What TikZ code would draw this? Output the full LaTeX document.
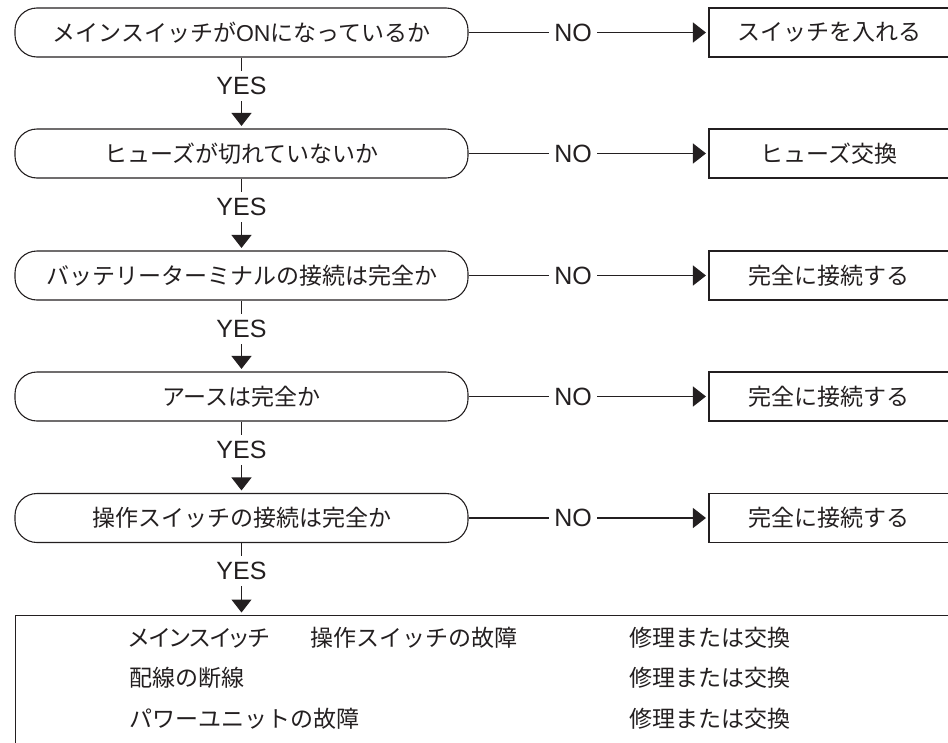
\documentclass[tikz,border=0pt]{standalone}
\usepackage{fontspec}
\usepackage{graphicx}
\setmainfont{Noto Sans CJK JP}
\newfontfamily\latinfont{Liberation Sans}
\newfontfamily\paltfont[RawFeature=+palt]{Noto Sans CJK JP}
\usetikzlibrary{arrows.meta}
\definecolor{ink}{RGB}{35,31,32}
\begin{document}
\begin{tikzpicture}[x=1pt,y=-1pt,
  every node/.style={text=ink},
  jp/.style={font=\fontsize{23}{23}\selectfont},
  decision/.style={jp, draw=ink, line width=1.1pt, rounded corners=22pt, minimum width=453pt, minimum height=49pt, inner sep=0pt},
  action/.style={jp, draw=ink, line width=1.1pt, minimum width=240pt, minimum height=49pt, inner sep=0pt},
  lbl/.style={font=\latinfont\fontsize{25}{25}\selectfont, inner sep=0pt},
  yeslbl/.style={lbl, minimum height=30pt},
  nolbl/.style={lbl, minimum width=48pt},
  conn/.style={draw=ink, line width=1.1pt},
  arr/.style={conn, -{Triangle[length=13pt,width=20pt]}, shorten >=2.5pt},
  rowtext/.style={jp, anchor=west, inner sep=0pt},
]
\useasboundingbox (0,0) rectangle (948,742);
\clip (0,0) rectangle (948,742);

% decisions
\node[decision] (d1) at (241.5,32.5) {メインスイッチが{\latinfont ON}になっているか};
\node[decision] (d2) at (241.5,153.5) {ヒューズが切れていないか};
\node[decision] (d3) at (241.5,275.5) {バッテリーターミナルの接続は完全か};
\node[decision] (d4) at (241.5,396.5) {アースは完全か};
\node[decision] (d5) at (241.5,518) {操作スイッチの接続は完全か};

% actions
\node[action] (a1) at (829,32.5) {スイッチを入れる};
\node[action] (a2) at (829,153.5) {ヒューズ交換};
\node[action] (a3) at (829,275.5) {完全に接続する};
\node[action] (a4) at (829,396.5) {完全に接続する};
\node[action] (a5) at (829,518) {完全に接続する};

% NO labels and connectors
\foreach \i/\y in {1/32.5,2/153.5,3/275.5,4/396.5,5/518}{
  \node[nolbl] (n\i) at (573,\y) {NO};
  \draw[conn] (d\i.east) -- (n\i.west);
  \draw[arr] (n\i.east) -- (a\i.west);
}

% YES labels
\node[yeslbl] (y1) at (241.5,86) {YES};
\node[yeslbl] (y2) at (241.5,207) {YES};
\node[yeslbl] (y3) at (241.5,329) {YES};
\node[yeslbl] (y4) at (241.5,450) {YES};
\node[yeslbl] (y5) at (241.5,571) {YES};

% result box
\node[draw=ink, line width=1.1pt, minimum width=950pt, minimum height=150pt, anchor=north west, inner sep=0pt] (res) at (15,615) {};

\draw[conn] (d1.south) -- (y1.north);
\draw[arr] (y1.south) -- (d2.north);
\draw[conn] (d2.south) -- (y2.north);
\draw[arr] (y2.south) -- (d3.north);
\draw[conn] (d3.south) -- (y3.north);
\draw[arr] (y3.south) -- (d4.north);
\draw[conn] (d4.south) -- (y4.north);
\draw[arr] (y4.south) -- (d5.north);
\draw[conn] (d5.south) -- (y5.north);
\draw[arr] (y5.south) -- (y5.south |- res.north);

% result rows
\node[rowtext] (r1a) at (129,638) {\paltfont\fontsize{23}{23}\selectfont メインスイッチ};
\node[rowtext] (r1b) at (310,638) {操作スイッチの故障};
\node[rowtext] (r2a) at (129,678) {配線の断線};
\node[rowtext] (r3a) at (129,719) {パワーユニットの故障};
\node[rowtext] (r1c) at (629,638) {修理または交換};
\node[rowtext] (r2c) at (629,678) {修理または交換};
\node[rowtext] (r3c) at (629,719) {修理または交換};
\end{tikzpicture}
\end{document}
